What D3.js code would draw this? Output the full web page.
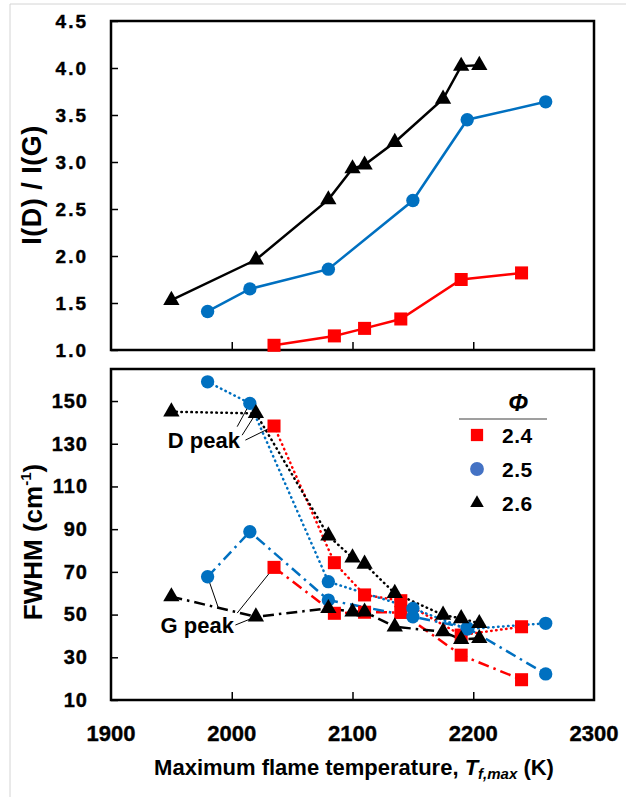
<!DOCTYPE html>
<html>
<head>
<meta charset="utf-8">
<script src="https://cdn.jsdelivr.net/npm/d3@7"></script>
<style>
  body { margin: 0; background: #fff; }
  text { font-family: Arial, "Liberation Sans", sans-serif; font-weight: bold; fill: #000; }
</style>
</head>
<body>
<div id="chart"></div>
<script>
// equivalence ratios
var phis = ["2.4", "2.5", "2.6"];

// maximum flame temperature (K) for each phi
var temp24 = [2035, 2085, 2110, 2140, 2190, 2240];
var temp25 = [1980, 2015, 2080, 2150, 2195, 2260];
var temp26 = [1950, 2020, 2080, 2100, 2110, 2135, 2175, 2190, 2205];

// I(D) / I(G)
var ratio24 = [1.05, 1.15, 1.23, 1.33, 1.75, 1.82];
var ratio25 = [1.41, 1.65, 1.86, 2.59, 3.45, 3.64];
var ratio26 = [1.53, 1.96, 2.60, 2.93, 2.97, 3.21, 3.67, 4.02, 4.03];

// FWHM (cm-1), D peak and G peak
var fwhmD24 = [138.3, 74.3, 59.2, 56.5, 40.4, 44.3];
var fwhmG24 = [72.1, 50.6, 51.1, 51.0, 31.0, 19.5];
var fwhmD25 = [159.0, 148.9, 65.4, 52.9, 43.2, 45.9];
var fwhmG25 = [67.7, 88.8, 56.8, 49.0, 43.8, 22.2];
var fwhmD26 = [145.0, 144.2, 86.9, 76.6, 73.7, 60.0, 49.8, 48.2, 45.9];
var fwhmG26 = [58.4, 49.0, 52.9, 51.3, 51.3, 44.3, 42.0, 38.4, 38.9];

// tick labels
var xTicks = [1900, 2000, 2100, 2200, 2300];
var ratioTicks = [1.0, 1.5, 2.0, 2.5, 3.0, 3.5, 4.0, 4.5];
var fwhmTicks = [10, 30, 50, 70, 90, 110, 130, 150];

var W = 626, H = 797;
var left = 111, right = 594;

var svg = d3.select("#chart").append("svg")
    .attr("width", W)
    .attr("height", H);

// faint border of the original picture
svg.append("line").attr("x1", 10).attr("x2", W).attr("y1", 4).attr("y2", 4)
    .attr("stroke", "#d4d4d4").attr("stroke-width", 1);
svg.append("line").attr("x1", 10).attr("x2", 10).attr("y1", 4).attr("y2", H)
    .attr("stroke", "#d4d4d4").attr("stroke-width", 1);

var x = d3.scaleLinear().domain([1900, 2300]).range([left, right]);
var yTop = d3.scaleLinear().domain([1, 4.5]).range([350, 21]);
var yBot = d3.scaleLinear().domain([10, 165]).range([700, 369]);

var red = "#ff0000", blue = "#0070c0", black = "#000000";

var series = [
  {phi: phis[0], t: temp24, r: ratio24, d: fwhmD24, g: fwhmG24, color: red, shape: d3.symbolSquare, size: 170},
  {phi: phis[1], t: temp25, r: ratio25, d: fwhmD25, g: fwhmG25, color: blue, shape: d3.symbolCircle, size: 140},
  {phi: phis[2], t: temp26, r: ratio26, d: fwhmD26, g: fwhmG26, color: black, shape: d3.symbolTriangle, size: 115}
];

function frame(y0, y1) {
  svg.append("rect")
      .attr("x", left).attr("y", y0)
      .attr("width", right - left).attr("height", y1 - y0)
      .attr("fill", "none").attr("stroke", "#000").attr("stroke-width", 2.5);
}

function yAxis(scale, ticks, fmt, fontSize, spacing) {
  var g = svg.append("g")
      .attr("transform", "translate(" + left + ",0)")
      .call(d3.axisLeft(scale).tickValues(ticks).tickFormat(fmt)
            .tickSizeInner(-7).tickSizeOuter(0).tickPadding(23));
  g.select(".domain").remove();
  g.selectAll(".tick line").attr("stroke", "#000").attr("stroke-width", 1.5);
  g.selectAll(".tick text").attr("font-size", fontSize)
      .attr("font-family", "Arial, 'Liberation Sans', sans-serif")
      .attr("font-weight", "bold").attr("letter-spacing", spacing)
      .attr("stroke", "#000").attr("stroke-width", 0.4);
  return g;
}

function xTickMarks(yPos) {
  var g = svg.append("g")
      .attr("transform", "translate(0," + yPos + ")")
      .call(d3.axisBottom(x).tickValues(xTicks.slice(1, -1)).tickFormat("")
            .tickSizeInner(-8).tickSizeOuter(0));
  g.select(".domain").remove();
  g.selectAll(".tick line").attr("stroke", "#000").attr("stroke-width", 1.5);
  return g;
}

function markers(s, vals, scale) {
  svg.append("g").selectAll("path")
    .data(s.t.map(function(t, i) { return [t, vals[i]]; }))
    .join("path")
      .attr("transform", function(d) { return "translate(" + x(d[0]) + "," + scale(d[1]) + ")"; })
      .attr("d", d3.symbol().type(s.shape).size(s.size))
      .attr("fill", s.color);
}

function pts(s, vals) {
  return s.t.map(function(t, i) { return [t, vals[i]]; });
}

// ---------- top panel : I(D)/I(G) ----------
frame(21, 350);
yAxis(yTop, ratioTicks, d3.format(".1f"), "19px", 2);
xTickMarks(350);

var lineTop = d3.line().x(function(d) { return x(d[0]); }).y(function(d) { return yTop(d[1]); });
series.forEach(function(s) {
  svg.append("path").datum(pts(s, s.r))
      .attr("d", lineTop).attr("fill", "none")
      .attr("stroke", s.color).attr("stroke-width", 2.5);
});
series.forEach(function(s) { markers(s, s.r, yTop); });

svg.append("text")
    .attr("transform", "translate(41,185) rotate(-90)")
    .attr("text-anchor", "middle")
    .attr("font-size", "27px")
    .attr("letter-spacing", 0.5)
    .text("I(D) / I(G)");

// ---------- bottom panel : FWHM ----------
frame(369, 700);
yAxis(yBot, fwhmTicks, d3.format("d"), "20px", 1);
xTickMarks(700);

var lineBot = d3.line().x(function(d) { return x(d[0]); }).y(function(d) { return yBot(d[1]); });
series.forEach(function(s) {
  svg.append("path").datum(pts(s, s.d))
      .attr("d", lineBot).attr("fill", "none")
      .attr("stroke", s.color).attr("stroke-width", 2.5)
      .attr("stroke-linecap", "round")
      .attr("stroke-dasharray", "0.5 4.5");
  svg.append("path").datum(pts(s, s.g))
      .attr("d", lineBot).attr("fill", "none")
      .attr("stroke", s.color).attr("stroke-width", 2.5)
      .attr("stroke-dasharray", "11 5 2.5 5");
});

// leader lines to the first points of each set (drawn under markers)
function leader(t0, v0, t1, v1) {
  svg.append("line")
      .attr("x1", x(t0)).attr("y1", yBot(v0))
      .attr("x2", x(t1)).attr("y2", yBot(v1))
      .attr("stroke", "#000").attr("stroke-width", 1);
}
leader(2004.5, 138, temp25[1], fwhmD25[1]);
leader(2008.6, 134, temp26[1], fwhmD26[1]);
leader(2011.3, 131.7, temp24[0], fwhmD24[0]);
leader(1989, 53, temp25[0], fwhmG25[0]);
leader(2004.5, 50.7, temp24[0], fwhmG24[0]);
leader(2003, 45.1, temp26[1], fwhmG26[1]);

series.forEach(function(s) { markers(s, s.d, yBot); markers(s, s.g, yBot); });

svg.append("text").attr("x", x(1947)).attr("y", yBot(128))
    .attr("font-size", "22px").text("D peak");
svg.append("text").attr("x", x(1941)).attr("y", yBot(41.4))
    .attr("font-size", "22px").text("G peak");

var fw = svg.append("text")
    .attr("transform", "translate(42,542) rotate(-90)")
    .attr("text-anchor", "middle")
    .attr("font-size", "26px");
fw.append("tspan").text("FWHM (cm");
fw.append("tspan").attr("font-size", "15px").attr("dy", -11).text("-1");
fw.append("tspan").attr("dy", 11).text(")");

// legend
var lg = svg.append("g").attr("transform", "translate(459,0)");
lg.append("text").attr("x", 59).attr("y", 411).attr("text-anchor", "middle")
    .attr("font-size", "24px").attr("font-style", "italic").text("\u03a6");
lg.append("line").attr("x1", 0).attr("x2", 88).attr("y1", 419).attr("y2", 419)
    .attr("stroke", "#7f7f7f").attr("stroke-width", 1.5);
var legColors = [red, "#4472c4", black];
series.forEach(function(s, i) {
  var yy = 435 + i * 34;
  lg.append("path")
      .attr("transform", "translate(18," + yy + ")")
      .attr("d", d3.symbol().type(s.shape).size(s.shape === d3.symbolTriangle ? 80 : 150))
      .attr("fill", legColors[i]);
  lg.append("text").attr("x", 43).attr("y", yy).attr("dy", "0.36em")
      .attr("font-size", "21px").attr("letter-spacing", 0.5).text(s.phi);
});

// x axis labels and title
svg.selectAll(".xlab").data(xTicks).join("text")
    .attr("class", "xlab")
    .attr("x", function(d) { return x(d); })
    .attr("y", 741)
    .attr("text-anchor", "middle")
    .attr("font-size", "22px")
    .attr("stroke", "#000").attr("stroke-width", 0.4)
    .text(function(d) { return d; });

var title = svg.append("text")
    .attr("x", 354).attr("y", 775)
    .attr("text-anchor", "middle")
    .attr("font-size", "22px");
title.append("tspan").text("Maximum flame temperature, ");
title.append("tspan").attr("font-style", "italic").text("T");
title.append("tspan").attr("font-style", "italic").attr("font-size", "15px").attr("dy", 4).text("f,max");
title.append("tspan").attr("dy", -4).text(" (K)");
</script>
</body>
</html>
